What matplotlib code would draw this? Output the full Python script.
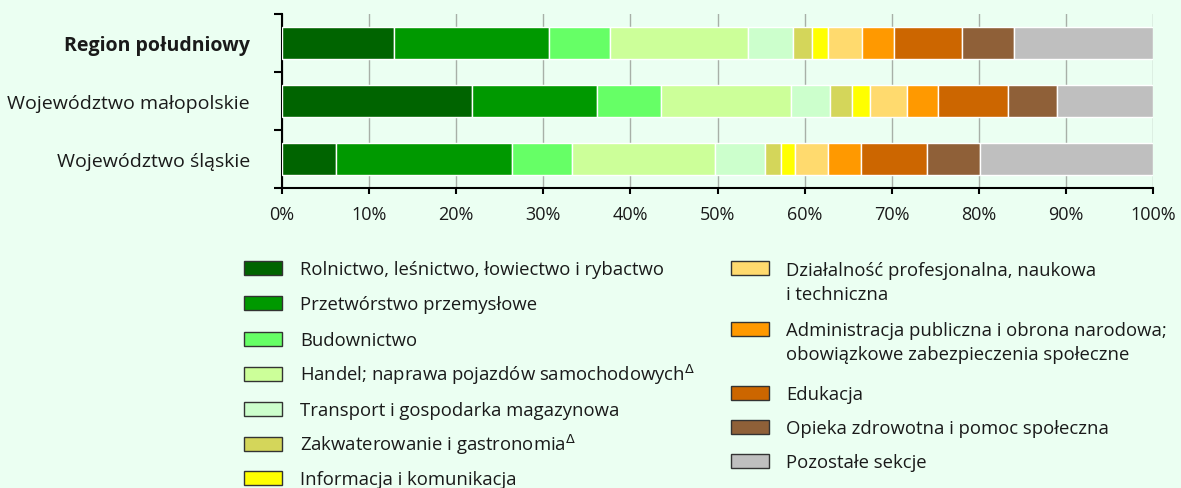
import matplotlib
matplotlib.use("Agg")
import matplotlib.pyplot as plt
from matplotlib.patches import Rectangle
import numpy as np

plt.rcParams['font.family'] = ['Open Sans', 'DejaVu Sans']

regions = ["Region południowy", "Województwo małopolskie", "Województwo śląskie"]
sectors = [
    "Rolnictwo, leśnictwo, łowiectwo i rybactwo",
    "Przetwórstwo przemysłowe",
    "Budownictwo",
    "Handel; naprawa pojazdów samochodowych$^{\\Delta}$",
    "Transport i gospodarka magazynowa",
    "Zakwaterowanie i gastronomia$^{\\Delta}$",
    "Informacja i komunikacja",
    "Działalność profesjonalna, naukowa\ni techniczna",
    "Administracja publiczna i obrona narodowa;\nobowiązkowe zabezpieczenia społeczne",
    "Edukacja",
    "Opieka zdrowotna i pomoc społeczna",
    "Pozostałe sekcje",
]
colors = ["#006400", "#009900", "#66FF66", "#CCFF99", "#CCFFCC", "#D4D65A",
          "#FFFF00", "#FFDA6E", "#FF9900", "#CC6600", "#8F6038", "#BFBFBF"]

region_poludniowy = [12.9, 17.8, 7.0, 15.8, 5.2, 2.1, 1.85, 3.95, 3.7, 7.8, 5.9, 16.0]
malopolskie = [21.85, 14.35, 7.3, 14.9, 4.5, 2.5, 2.1, 4.2, 3.6, 8.05, 5.65, 11.0]
slaskie = [6.2, 20.2, 6.9, 16.4, 5.8, 1.8, 1.6, 3.75, 3.85, 7.5, 6.1, 19.9]

xticks = [0, 10, 20, 30, 40, 50, 60, 70, 80, 90, 100]
xticklabels = [f"{t}%" for t in xticks]

BG = "#EBFFF2"
TXT = "#1a1a1a"
W, H = 1181, 489
FS = 14
LFS = 13.3

fig = plt.figure(figsize=(W / 100, H / 100), dpi=100, facecolor=BG)
ax = fig.add_axes([282 / W, 1 - 189 / H, 871 / W, 174 / H], facecolor=BG)

data = np.array([region_poludniowy, malopolskie, slaskie])
ypos = np.array([2.5, 1.5, 0.5])
left = np.zeros(len(regions))
for j, (name, col) in enumerate(zip(sectors, colors)):
    ax.barh(ypos, data[:, j], left=left, height=0.545, color=col,
            edgecolor="white", linewidth=1.0, zorder=3)
    left += data[:, j]

ax.set_xlim(0, 100)
ax.set_ylim(0, 3)
ax.set_xticks(xticks)
ax.set_xticklabels(xticklabels, fontsize=13, color=TXT)
ax.tick_params(axis="x", length=4, width=1.5, direction="out", pad=8)
ax.set_yticks([0, 1, 2, 3])
ax.set_yticklabels([])
ax.tick_params(axis="y", which="major", length=6, width=1.5, direction="out")
ax.set_yticks(ypos, minor=True)
ax.set_yticklabels(regions, minor=True, fontsize=FS, color=TXT)
ax.tick_params(axis="y", which="minor", length=0, pad=23)
for lbl in ax.get_yticklabels(minor=True):
    if lbl.get_text() == "Region południowy":
        lbl.set_fontweight("bold")

ax.xaxis.grid(True, color="#A8B0A8", linewidth=1, zorder=0)
ax.set_axisbelow(True)
for s in ["top", "right"]:
    ax.spines[s].set_visible(False)
for s in ["left", "bottom"]:
    ax.spines[s].set_linewidth(1.5)
    ax.spines[s].set_color("black")

# manual legend (figure pixel coordinates, y from top)
left_rows = [268.5, 304, 340, 374.5, 409.7, 444.7, 479]
right_rows = [269.3, 330, 393.5, 428, 462]

def add_item(x0, yc, col, text):
    sw_w, sw_h = 38, 14
    rect = Rectangle((x0 / W, 1 - (yc + sw_h / 2) / H), sw_w / W, sw_h / H,
                     transform=fig.transFigure, facecolor=col,
                     edgecolor="#333333", linewidth=1.0)
    fig.add_artist(rect)
    for k, line in enumerate(text.split("\n")):
        fig.text((x0 + 56) / W, 1 - (yc + 6.5 + 24 * k) / H, line,
                 fontsize=LFS, color=TXT, ha="left", va="baseline")

for i in range(7):
    add_item(244, left_rows[i], colors[i], sectors[i])
for i in range(5):
    add_item(730.5, right_rows[i], colors[7 + i], sectors[7 + i])

fig.savefig("out.png", dpi=100, facecolor=BG)
